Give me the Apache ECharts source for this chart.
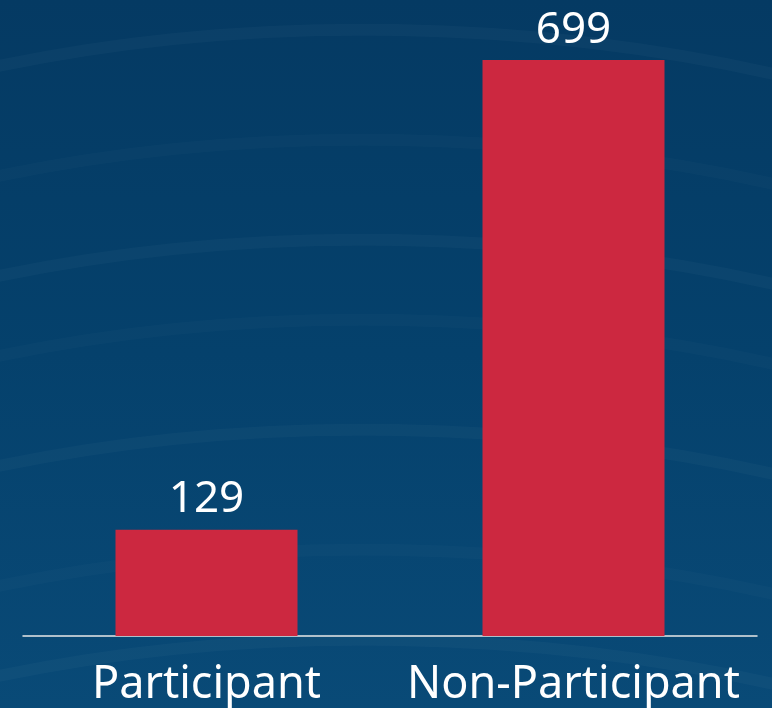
<!DOCTYPE html>
<html>
<head>
<meta charset="utf-8">
<script src="https://cdn.jsdelivr.net/npm/echarts@6/dist/echarts.min.js"></script>
<style>
  html, body { margin: 0; padding: 0; }
  #main { width: 772px; height: 708px; }
</style>
</head>
<body>
<div id="main"></div>
<script>
// data
var categories = ['Participant', 'Non-Participant'];
var counts = [129, 699];

var chart = echarts.init(document.getElementById('main'));

// faint swooshes in the background
var swooshes = [];
var swooshY = [40, 150, 250, 330, 440, 560, 650];
swooshY.forEach(function (y, i) {
  swooshes.push({
    type: 'bezierCurve',
    silent: true,
    z: -10,
    shape: { x1: -20, y1: y + 30, cpx1: 250, cpy1: y - 30, cpx2: 550, cpy2: y - 20, x2: 800, y2: y + 40 },
    style: { stroke: 'rgba(255,255,255,' + (i % 2 ? 0.018 : 0.028) + ')', lineWidth: 12, fill: null }
  });
});

var option = {
  backgroundColor: {
    type: 'linear', x: 0, y: 0, x2: 0, y2: 1,
    colorStops: [
      { offset: 0, color: '#053a63' },
      { offset: 0.5, color: '#05416c' },
      { offset: 1, color: '#094a77' }
    ]
  },
  graphic: swooshes,
  grid: {
    top: 60,
    bottom: 72,
    left: 23,
    right: 15
  },
  xAxis: {
    type: 'category',
    data: categories,
    axisTick: { show: false },
    axisLine: { lineStyle: { color: '#e8e8e8', width: 1.5 } },
    axisLabel: {
      interval: 0,
      color: '#ffffff',
      fontFamily: 'Noto Sans',
      fontSize: 45,
      margin: 27
    }
  },
  yAxis: {
    type: 'value',
    show: false,
    min: 0,
    max: Math.max.apply(null, counts)
  },
  series: [
    {
      type: 'bar',
      data: counts,
      barWidth: 182,
      itemStyle: { color: '#cc2840' },
      label: {
        show: true,
        position: 'top',
        distance: 8,
        color: '#ffffff',
        fontFamily: 'Noto Sans',
        fontSize: 44
      }
    }
  ]
};

chart.setOption(option);
</script>
</body>
</html>
